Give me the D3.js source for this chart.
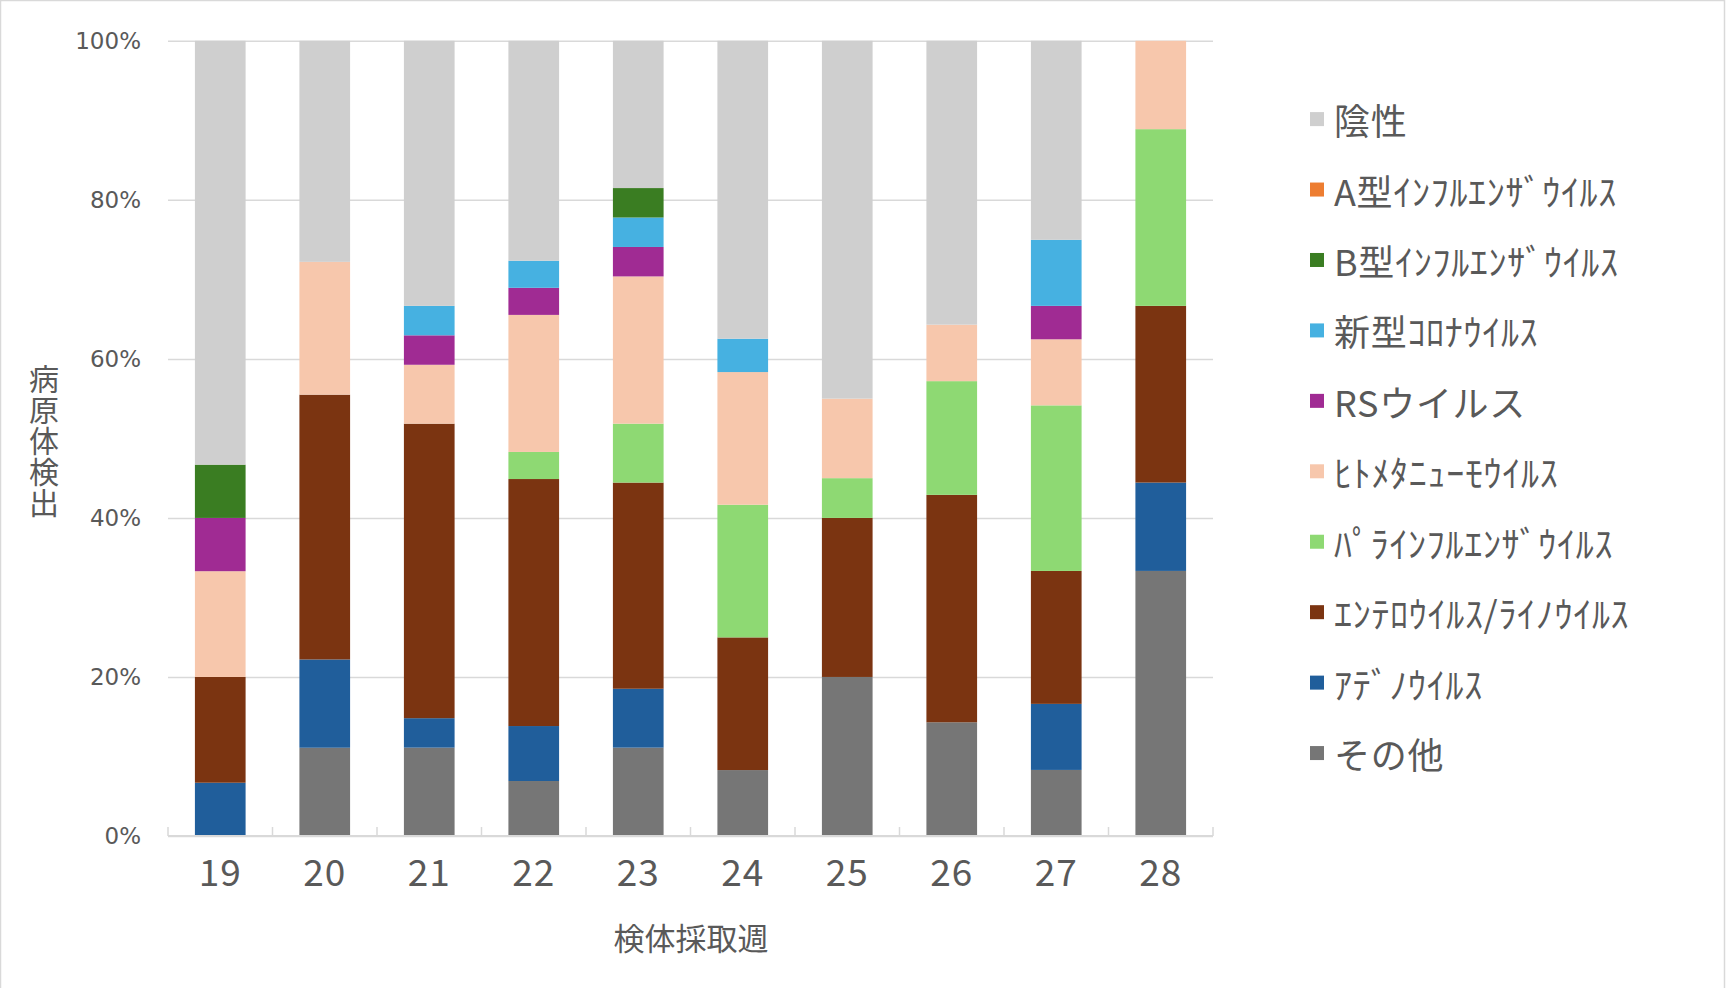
<!DOCTYPE html>
<html><head><meta charset="utf-8">
<script src="https://cdn.jsdelivr.net/npm/d3@7"></script>
<style>
html,body{margin:0;padding:0;background:#fff;}
svg{display:block;}
text{font-family:"Noto Sans CJK JP","Noto Sans",sans-serif;fill:#595959;}
</style></head><body>
<svg id="chart" width="1729" height="988"></svg>
<script>
// ---- data (percent of specimens per week) ----
const weeks = ["19","20","21","22","23","24","25","26","27","28"];
// stacking order, bottom -> top
const seriesNames = ["その他","ｱﾃﾞﾉｳｲﾙｽ","ｴﾝﾃﾛｳｲﾙｽ/ﾗｲﾉｳｲﾙｽ","ﾊﾟﾗｲﾝﾌﾙｴﾝｻﾞｳｲﾙｽ","ﾋﾄﾒﾀﾆｭｰﾓｳｲﾙｽ","RSウイルス","新型ｺﾛﾅｳｲﾙｽ","B型ｲﾝﾌﾙｴﾝｻﾞｳｲﾙｽ","A型ｲﾝﾌﾙｴﾝｻﾞｳｲﾙｽ","陰性"];
const other    = [0,   11.1, 11.1, 6.9,  11.1, 8.3,  20, 14.3, 8.3,  33.3];
const adeno    = [6.7, 11.1, 3.7,  6.9,  7.4,  0,    0,  0,    8.3,  11.1];
const entero   = [13.3,33.3, 37.0, 31.0, 25.9, 16.7, 20, 28.6, 16.7, 22.2];
const para     = [0,   0,    0,    3.4,  7.4,  16.7, 5,  14.3, 20.8, 22.2];
const hmpv     = [13.3,16.7, 7.4,  17.2, 18.5, 16.7, 10, 7.1,  8.3,  11.1];
const rsv      = [6.7, 0,    3.7,  3.4,  3.7,  0,    0,  0,    4.2,  0];
const covid    = [0,   0,    3.7,  3.4,  3.7,  4.2,  0,  0,    8.3,  0];
const fluB     = [6.7, 0,    0,    0,    3.7,  0,    0,  0,    0,    0];
const fluA     = [0,   0,    0,    0,    0,    0,    0,  0,    0,    0];
const negative = [53.3,27.8, 33.3, 27.6, 18.5, 37.5, 45, 35.7, 25.0, 0];
const seriesValues = [other, adeno, entero, para, hmpv, rsv, covid, fluB, fluA, negative];
const seriesColors = ["#767676","#205e9b","#7b3411","#8ed973","#f7c7ac","#a02b93","#46b1e1","#3a7d22","#ed7d31","#cfcfcf"];
const yTicks = [0,20,40,60,80,100];
const yTickLabels = ["0%","20%","40%","60%","80%","100%"];
const xTitle = "検体採取週";
const yTitle = "病原体検出";

// ---- build table ----
const rows = weeks.map((w,i)=>{
  const r = {week:w};
  seriesNames.forEach((s,j)=>{ r[s] = seriesValues[j][i]; });
  return r;
});
const stacked = d3.stack().keys(seriesNames).offset(d3.stackOffsetExpand)(rows);

const svg = d3.select("#chart");
const plotL = 168, plotR = 1213, plotT = 40.8, plotB = 836;

svg.append("rect").attr("x",0.5).attr("y",0.5).attr("width",1724).attr("height",1000)
  .attr("fill","none").attr("stroke","#d9d9d9").attr("stroke-width",1.5);

const x = d3.scaleBand().domain(weeks).range([plotL,plotR]).paddingInner(0.515).paddingOuter(0.2575);
const y = d3.scaleLinear().domain([0,1]).range([plotB,plotT]);

// grid + y labels
const yAxis = d3.axisLeft(y).tickValues(yTicks.map(t=>t/100))
  .tickSize(-(plotR-plotL)).tickPadding(27)
  .tickFormat((d,i)=>yTickLabels[i]);
const gy = svg.append("g").attr("transform",`translate(${plotL},0)`).call(yAxis);
gy.select(".domain").remove();
gy.selectAll("line").attr("stroke","#d9d9d9").attr("stroke-width",1.5);
gy.selectAll("text").style("font-family","'DejaVu Sans',sans-serif").style("font-size","23px").attr("fill","#595959");

// bars
svg.append("g").selectAll("g").data(stacked).join("g")
  .attr("fill",(d,i)=>seriesColors[i])
  .selectAll("rect").data(d=>d).join("rect")
  .attr("x",d=>x(d.data.week))
  .attr("width",x.bandwidth())
  .attr("y",d=>y(d[1]))
  .attr("height",d=>Math.max(0,y(d[0])-y(d[1])));

// x axis line with ticks between categories
svg.append("line").attr("x1",plotL).attr("x2",plotR).attr("y1",plotB).attr("y2",plotB)
  .attr("stroke","#d9d9d9").attr("stroke-width",2);
const gap = x.step()-x.bandwidth();
const bounds = weeks.map(w=>x(w)-gap/2).concat([plotR]);
svg.append("g").selectAll("line").data(bounds).join("line")
  .attr("x1",d=>d).attr("x2",d=>d).attr("y1",plotB).attr("y2",plotB-9)
  .attr("stroke","#d9d9d9").attr("stroke-width",1.5);

const xAxis = d3.axisBottom(x).tickSize(0).tickPadding(0);
const gx = svg.append("g").attr("transform",`translate(0,${plotB})`).call(xAxis);
gx.select(".domain").remove();
gx.selectAll("text").attr("y",34).attr("dy","0").attr("dominant-baseline","central")
  .style("font-size","37px").style("letter-spacing","1px").style("font-family","'Noto Sans CJK JP',sans-serif").attr("fill","#595959");

// axis titles
svg.append("text").attr("x",691).attr("y",936).attr("text-anchor","middle").attr("dominant-baseline","central")
  .style("font-size","31px").text(xTitle);
svg.append("text").attr("x",44).attr("y",441).attr("text-anchor","middle")
  .style("writing-mode","vertical-rl").style("text-orientation","upright")
  .style("font-size","30px").style("letter-spacing","1px").text(yTitle);

// legend (reverse of stacking order)
const legendOrder = seriesNames.map((s,i)=>i).reverse();
const lg = svg.append("g");
legendOrder.forEach((si,k)=>{
  const cy = 119.1 + k*70.44;
  lg.append("rect").attr("x",1310).attr("y",cy-7).attr("width",14).attr("height",14).attr("fill",seriesColors[si]);
  lg.append("text").attr("x",1334).attr("y",cy).attr("dominant-baseline","central")
    .style("font-size","36px").style("letter-spacing","0.7px").text(seriesNames[si]);
});
</script>
</body></html>
